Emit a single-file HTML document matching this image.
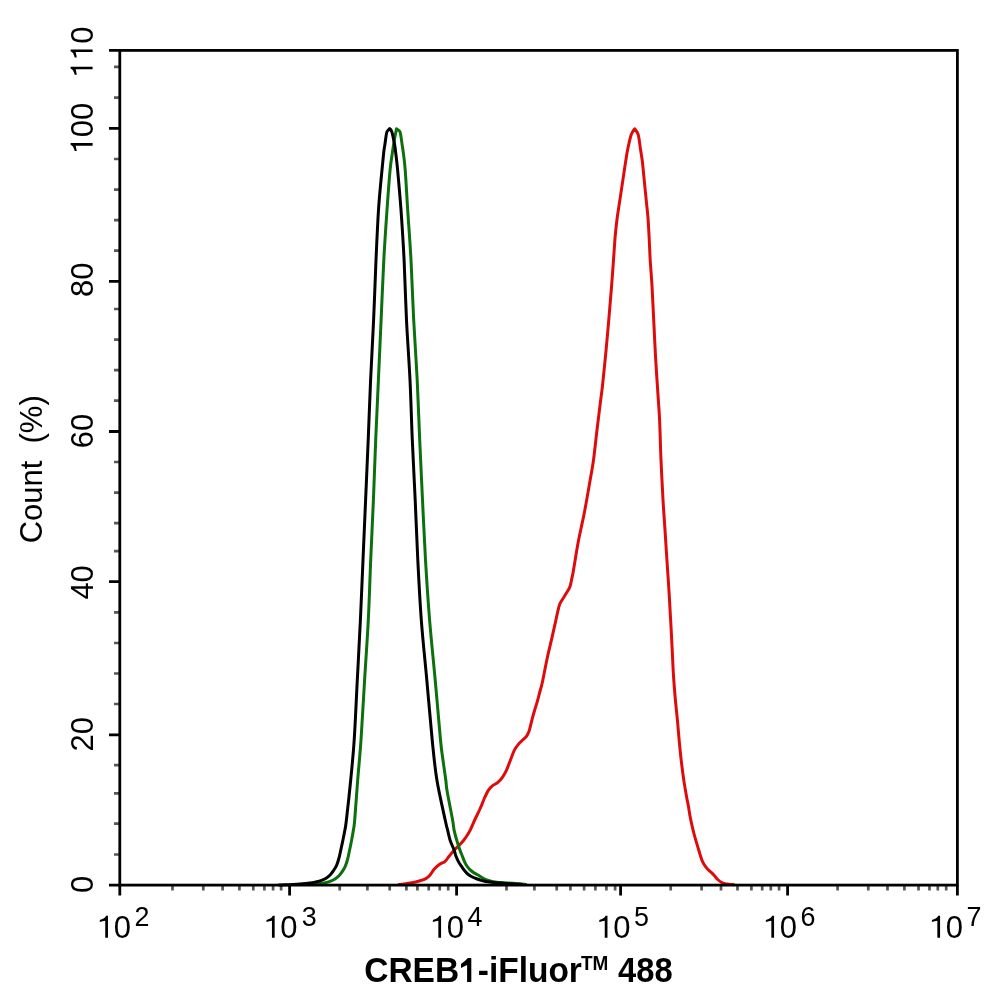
<!DOCTYPE html><html><head><meta charset="utf-8"><title>CREB1 flow histogram</title><style>html,body{margin:0;padding:0;background:#fff;width:994px;height:1002px;overflow:hidden}svg{display:block;will-change:transform}text{font-family:"Liberation Sans",sans-serif;font-kerning:none;fill:#000}</style></head><body>
<svg width="994" height="1002" viewBox="0 0 994 1002">
<path d="M114.00 66.80H119.80 M114.00 97.60H119.80 M114.00 159.00H119.80 M114.00 189.60H119.80 M114.00 220.10H119.80 M114.00 250.60H119.80 M114.00 309.00H119.80 M114.00 339.60H119.80 M114.00 370.10H119.80 M114.00 400.60H119.80 M114.00 462.00H119.80 M114.00 492.60H119.80 M114.00 523.20H119.80 M114.00 551.20H119.80 M114.00 612.40H119.80 M114.00 643.00H119.80 M114.00 673.50H119.80 M114.00 704.00H119.80 M114.00 765.20H119.80 M114.00 793.30H119.80 M114.00 823.70H119.80 M114.00 854.50H119.80 M172.50 885.10V890.40 M203.30 885.10V890.40 M222.60 885.10V890.40 M239.40 885.10V890.40 M253.30 885.10V890.40 M264.40 885.10V890.40 M273.10 885.10V890.40 M281.10 885.10V890.40 M339.70 885.10V890.40 M367.40 885.10V890.40 M389.70 885.10V890.40 M406.40 885.10V890.40 M417.40 885.10V890.40 M428.70 885.10V890.40 M439.70 885.10V890.40 M448.20 885.10V890.40 M506.50 885.10V890.40 M534.40 885.10V890.40 M556.70 885.10V890.40 M570.40 885.10V890.40 M584.10 885.10V890.40 M595.40 885.10V890.40 M606.40 885.10V890.40 M615.10 885.10V890.40 M670.70 885.10V890.40 M701.60 885.10V890.40 M721.00 885.10V890.40 M737.50 885.10V890.40 M751.40 885.10V890.40 M762.20 885.10V890.40 M770.80 885.10V890.40 M779.10 885.10V890.40 M837.60 885.10V890.40 M868.30 885.10V890.40 M887.50 885.10V890.40 M904.40 885.10V890.40 M918.50 885.10V890.40 M929.50 885.10V890.40 M937.80 885.10V890.40 M946.20 885.10V890.40" stroke="#585858" stroke-width="2.70" fill="none"/>
<path d="M399.00 884.60 C399.50 884.55 400.95 884.43 402.00 884.30 C403.05 884.17 403.63 884.05 405.30 883.80 C406.97 883.55 409.68 883.27 412.00 882.80 C414.32 882.33 416.88 881.70 419.20 881.00 C421.52 880.30 424.08 879.60 425.90 878.60 C427.72 877.60 428.70 876.60 430.10 875.00 C431.50 873.40 432.70 870.78 434.30 869.00 C435.90 867.22 437.90 865.58 439.70 864.30 C441.50 863.02 443.53 862.63 445.10 861.30 C446.67 859.97 447.60 858.15 449.10 856.30 C450.60 854.45 452.42 852.05 454.10 850.20 C455.78 848.35 457.60 846.87 459.20 845.20 C460.80 843.53 462.37 841.87 463.70 840.20 C465.03 838.53 466.12 836.88 467.20 835.20 C468.28 833.52 468.95 832.63 470.20 830.10 C471.45 827.57 473.03 823.60 474.70 820.00 C476.37 816.40 478.60 812.08 480.20 808.50 C481.80 804.92 482.95 801.52 484.30 798.50 C485.65 795.48 486.97 792.50 488.30 790.40 C489.63 788.30 490.72 787.23 492.30 785.90 C493.88 784.57 496.12 783.83 497.80 782.40 C499.48 780.97 500.97 779.32 502.40 777.30 C503.83 775.28 505.07 773.15 506.40 770.30 C507.73 767.45 509.07 763.55 510.40 760.20 C511.73 756.85 513.05 752.88 514.40 750.20 C515.75 747.52 517.08 745.83 518.50 744.10 C519.92 742.37 521.55 741.13 522.90 739.80 C524.25 738.47 525.58 737.52 526.60 736.10 C527.62 734.68 528.30 733.22 529.00 731.30 C529.70 729.38 530.20 726.92 530.80 724.60 C531.40 722.28 531.90 720.00 532.60 717.40 C533.30 714.80 534.20 711.72 535.00 709.00 C535.80 706.28 536.60 703.93 537.40 701.10 C538.20 698.27 539.00 695.02 539.80 692.00 C540.60 688.98 540.97 688.63 542.20 683.00 C543.43 677.37 545.67 665.35 547.20 658.20 C548.73 651.05 550.12 645.68 551.40 640.10 C552.68 634.52 553.82 629.57 554.90 624.70 C555.98 619.83 557.10 614.30 557.90 610.90 C558.70 607.50 558.95 606.20 559.70 604.30 C560.45 602.40 561.45 601.10 562.40 599.50 C563.35 597.90 564.35 596.40 565.40 594.70 C566.45 593.00 567.92 590.70 568.70 589.30 C569.48 587.90 569.67 587.68 570.10 586.30 C570.53 584.92 570.80 583.32 571.30 581.00 C571.80 578.68 572.40 576.23 573.10 572.40 C573.80 568.57 574.70 562.78 575.50 558.00 C576.30 553.22 577.00 548.53 577.90 543.70 C578.80 538.87 579.90 533.78 580.90 529.00 C581.90 524.22 582.88 520.17 583.90 515.00 C584.92 509.83 586.00 503.60 587.00 498.00 C588.00 492.40 588.82 487.73 589.90 481.40 C590.98 475.07 592.32 468.57 593.50 460.00 C594.68 451.43 595.80 440.00 597.00 430.00 C598.20 420.00 599.77 407.55 600.70 400.00 C601.63 392.45 601.68 393.23 602.60 384.70 C603.52 376.17 605.15 359.87 606.20 348.80 C607.25 337.73 608.00 328.78 608.90 318.30 C609.80 307.82 610.72 297.28 611.60 285.90 C612.48 274.52 613.60 258.32 614.20 250.00 C614.80 241.68 614.70 241.37 615.20 236.00 C615.70 230.63 616.52 223.17 617.20 217.80 C617.88 212.43 618.60 208.45 619.30 203.80 C620.00 199.15 620.70 194.55 621.40 189.90 C622.10 185.25 622.80 180.57 623.50 175.90 C624.20 171.23 624.90 166.33 625.60 161.90 C626.30 157.47 626.77 153.83 627.70 149.30 C628.63 144.77 630.03 138.12 631.20 134.70 C632.37 131.28 634.12 129.78 634.70 128.80 L634.70 128.80 C635.28 129.78 637.27 131.52 638.20 134.70 C639.13 137.88 639.60 143.37 640.30 147.90 C641.00 152.43 641.82 157.23 642.40 161.90 C642.98 166.57 643.33 171.23 643.80 175.90 C644.27 180.57 644.73 185.25 645.20 189.90 C645.67 194.55 646.13 199.15 646.60 203.80 C647.07 208.45 647.57 211.97 648.00 217.80 C648.43 223.63 648.83 231.77 649.20 238.80 C649.57 245.83 649.73 252.15 650.20 260.00 C650.67 267.85 651.40 275.58 652.00 285.90 C652.60 296.22 653.20 309.92 653.80 321.90 C654.40 333.88 654.92 345.83 655.60 357.80 C656.28 369.77 657.23 383.33 657.90 393.70 C658.57 404.07 659.08 408.97 659.60 420.00 C660.12 431.03 660.43 446.60 661.00 459.90 C661.57 473.20 662.33 488.15 663.00 499.80 C663.67 511.45 664.35 519.82 665.00 529.80 C665.65 539.78 666.25 549.72 666.90 559.70 C667.55 569.68 668.28 579.72 668.90 589.70 C669.52 599.68 670.20 612.55 670.60 619.60 C671.00 626.65 671.00 626.27 671.30 632.00 C671.60 637.73 672.03 646.68 672.40 654.00 C672.77 661.32 673.03 668.58 673.50 675.90 C673.97 683.22 674.55 690.57 675.20 697.90 C675.85 705.23 676.87 714.30 677.40 719.90 C677.93 725.50 677.98 726.82 678.40 731.50 C678.82 736.18 679.35 742.50 679.90 748.00 C680.45 753.50 681.03 759.02 681.70 764.50 C682.37 769.98 683.07 775.42 683.90 780.90 C684.73 786.38 685.95 793.22 686.70 797.40 C687.45 801.58 687.87 802.98 688.40 806.00 C688.93 809.02 689.33 812.38 689.90 815.50 C690.47 818.62 691.15 821.78 691.80 824.70 C692.45 827.62 693.12 830.35 693.80 833.00 C694.48 835.65 695.20 838.17 695.90 840.60 C696.60 843.03 697.30 845.27 698.00 847.60 C698.70 849.93 699.40 852.38 700.10 854.60 C700.80 856.82 701.38 859.03 702.20 860.90 C703.02 862.77 703.95 864.28 705.00 865.80 C706.05 867.32 707.42 868.87 708.50 870.00 C709.58 871.13 710.50 871.63 711.50 872.60 C712.50 873.57 713.47 874.65 714.50 875.80 C715.53 876.95 716.57 878.43 717.70 879.50 C718.83 880.57 720.10 881.52 721.30 882.20 C722.50 882.88 723.62 883.25 724.90 883.60 C726.18 883.95 727.48 884.12 729.00 884.30 C730.52 884.48 733.17 884.63 734.00 884.70" stroke="#de0b0b" stroke-width="3.00" fill="none" stroke-linejoin="round" stroke-linecap="round"/>
<path d="M312.00 884.40 C313.42 884.23 318.28 883.67 320.50 883.40 C322.72 883.13 323.70 883.13 325.30 882.80 C326.90 882.47 328.48 882.03 330.10 881.40 C331.72 880.77 333.52 879.93 335.00 879.00 C336.48 878.07 337.80 877.02 339.00 875.80 C340.20 874.58 341.20 873.18 342.20 871.70 C343.20 870.22 344.13 868.85 345.00 866.90 C345.87 864.95 346.70 862.48 347.40 860.00 C348.10 857.52 348.50 855.30 349.20 852.00 C349.90 848.70 350.90 843.85 351.60 840.20 C352.30 836.55 352.88 833.47 353.40 830.10 C353.92 826.73 353.98 828.35 354.70 820.00 C355.42 811.65 356.65 793.33 357.70 780.00 C358.75 766.67 359.85 756.67 361.00 740.00 C362.15 723.33 363.38 700.00 364.60 680.00 C365.82 660.00 367.28 640.00 368.30 620.00 C369.32 600.00 369.85 580.00 370.70 560.00 C371.55 540.00 372.57 520.00 373.40 500.00 C374.23 480.00 374.87 460.00 375.70 440.00 C376.53 420.00 377.50 400.00 378.40 380.00 C379.30 360.00 380.20 340.00 381.10 320.00 C382.00 300.00 382.82 278.33 383.80 260.00 C384.78 241.67 385.95 225.03 387.00 210.00 C388.05 194.97 389.20 179.37 390.10 169.80 C391.00 160.23 391.82 156.82 392.40 152.60 C392.98 148.38 393.22 146.92 393.60 144.50 C393.98 142.08 394.32 140.23 394.70 138.10 C395.08 135.97 395.60 133.25 395.90 131.70 C396.20 130.15 396.40 129.28 396.50 128.80 L396.50 128.80 C397.07 129.28 399.12 130.15 399.90 131.70 C400.68 133.25 400.83 135.97 401.20 138.10 C401.57 140.23 401.75 142.08 402.10 144.50 C402.45 146.92 402.78 148.38 403.30 152.60 C403.82 156.82 404.47 160.23 405.20 169.80 C405.93 179.37 406.73 194.97 407.70 210.00 C408.67 225.03 410.00 241.67 411.00 260.00 C412.00 278.33 412.67 300.00 413.70 320.00 C414.73 340.00 416.20 360.00 417.20 380.00 C418.20 400.00 418.82 420.00 419.70 440.00 C420.58 460.00 421.53 480.00 422.50 500.00 C423.47 520.00 424.32 540.00 425.50 560.00 C426.68 580.00 427.98 600.00 429.60 620.00 C431.22 640.00 433.38 660.00 435.20 680.00 C437.02 700.00 439.20 726.63 440.50 740.00 C441.80 753.37 442.12 753.53 443.00 760.20 C443.88 766.87 445.13 774.97 445.80 780.00 C446.47 785.03 445.87 783.73 447.00 790.40 C448.13 797.07 451.42 813.38 452.60 820.00 C453.78 826.62 453.42 826.73 454.10 830.10 C454.78 833.47 455.73 836.88 456.70 840.20 C457.67 843.52 458.97 847.37 459.90 850.00 C460.83 852.63 461.50 853.98 462.30 856.00 C463.10 858.02 463.83 860.28 464.70 862.10 C465.57 863.92 466.48 865.50 467.50 866.90 C468.52 868.30 469.58 869.43 470.80 870.50 C472.02 871.57 473.40 872.42 474.80 873.30 C476.20 874.18 477.80 874.98 479.20 875.80 C480.60 876.62 482.05 877.55 483.20 878.20 C484.35 878.85 484.43 879.10 486.10 879.70 C487.77 880.30 490.88 881.33 493.20 881.80 C495.52 882.27 497.65 882.32 500.00 882.50 C502.35 882.68 504.63 882.73 507.30 882.90 C509.97 883.07 512.88 883.25 516.00 883.50 C519.12 883.75 524.33 884.25 526.00 884.40" stroke="#0c700c" stroke-width="3.00" fill="none" stroke-linejoin="round" stroke-linecap="round"/>
<path d="M279.00 885.00 C280.17 884.97 283.67 884.90 286.00 884.80 C288.33 884.70 290.67 884.55 293.00 884.40 C295.33 884.25 297.17 884.13 300.00 883.90 C302.83 883.67 307.67 883.25 310.00 883.00 C312.33 882.75 312.67 882.67 314.00 882.40 C315.33 882.13 316.65 881.77 318.00 881.40 C319.35 881.03 320.75 880.73 322.10 880.20 C323.45 879.67 324.77 879.07 326.10 878.20 C327.43 877.33 328.90 876.22 330.10 875.00 C331.30 873.78 332.22 872.52 333.30 870.90 C334.38 869.28 335.65 867.45 336.60 865.30 C337.55 863.15 338.30 860.55 339.00 858.00 C339.70 855.45 340.15 852.97 340.80 850.00 C341.45 847.03 342.22 843.52 342.90 840.20 C343.58 836.88 344.32 833.47 344.90 830.10 C345.48 826.73 345.43 828.35 346.40 820.00 C347.37 811.65 349.40 793.33 350.70 780.00 C352.00 766.67 353.10 756.67 354.20 740.00 C355.30 723.33 356.27 700.00 357.30 680.00 C358.33 660.00 359.45 640.00 360.40 620.00 C361.35 600.00 362.13 580.00 363.00 560.00 C363.87 540.00 364.73 520.00 365.60 500.00 C366.47 480.00 367.37 460.00 368.20 440.00 C369.03 420.00 369.70 400.00 370.60 380.00 C371.50 360.00 372.70 340.00 373.60 320.00 C374.50 300.00 375.18 278.33 376.00 260.00 C376.82 241.67 377.58 224.17 378.50 210.00 C379.42 195.83 380.63 184.57 381.50 175.00 C382.37 165.43 383.13 157.68 383.70 152.60 C384.27 147.52 384.55 146.92 384.90 144.50 C385.25 142.08 385.46 140.23 385.80 138.10 C386.14 135.97 386.29 133.30 386.95 131.70 C387.61 130.10 389.28 129.03 389.75 128.50 L389.75 128.50 C390.09 129.03 391.21 130.10 391.80 131.70 C392.39 133.30 392.83 135.97 393.30 138.10 C393.77 140.23 394.20 142.08 394.60 144.50 C395.00 146.92 395.20 148.38 395.70 152.60 C396.20 156.82 396.72 160.23 397.60 169.80 C398.48 179.37 399.92 194.97 401.00 210.00 C402.08 225.03 403.18 241.67 404.10 260.00 C405.02 278.33 405.52 300.00 406.50 320.00 C407.48 340.00 409.03 360.00 410.00 380.00 C410.97 400.00 411.43 420.00 412.30 440.00 C413.17 460.00 414.28 480.00 415.20 500.00 C416.12 520.00 416.78 540.00 417.80 560.00 C418.82 580.00 419.80 600.00 421.30 620.00 C422.80 640.00 424.98 660.00 426.80 680.00 C428.62 700.00 430.52 723.33 432.20 740.00 C433.88 756.67 434.73 766.67 436.90 780.00 C439.07 793.33 443.42 811.65 445.20 820.00 C446.98 828.35 446.78 826.73 447.60 830.10 C448.42 833.47 449.02 836.88 450.10 840.20 C451.18 843.52 453.13 847.37 454.10 850.00 C455.07 852.63 455.13 853.98 455.90 856.00 C456.67 858.02 457.70 860.28 458.70 862.10 C459.70 863.92 460.83 865.37 461.90 866.90 C462.97 868.43 464.03 870.03 465.10 871.30 C466.17 872.57 467.08 873.55 468.30 874.50 C469.52 875.45 470.92 876.25 472.40 877.00 C473.88 877.75 475.73 878.43 477.20 879.00 C478.67 879.57 479.73 879.98 481.20 880.40 C482.67 880.82 484.00 881.15 486.00 881.50 C488.00 881.85 490.37 882.20 493.20 882.50 C496.03 882.80 499.53 883.03 503.00 883.30 C506.47 883.57 510.83 883.88 514.00 884.10 C517.17 884.32 520.67 884.52 522.00 884.60" stroke="#000" stroke-width="3.00" fill="none" stroke-linejoin="round" stroke-linecap="round"/>
<path d="M109.00 885.10H119.80 M109.00 734.80H119.80 M109.00 581.70H119.80 M109.00 431.50H119.80 M109.00 281.40H119.80 M109.00 128.30H119.80 M109.00 50.40H119.80 M119.80 885.10V895.60 M289.60 885.10V895.60 M456.60 885.10V895.60 M620.60 885.10V895.60 M787.60 885.10V895.60 M957.40 885.10V895.60" stroke="#000" stroke-width="2.80" fill="none"/>
<rect x="119.80" y="50.40" width="837.60" height="834.70" fill="none" stroke="#000" stroke-width="2.80"/>
<g transform="translate(92.60 78.18) rotate(-90) scale(1 1.030)"><path d="M763 0L583 0L583 1087 Q420 1049 223 1014 L223 1146 Q420 1199 520 1262 Q600 1340 640 1411 L763 1411 Z" transform="translate(0.00 0) scale(0.01514 -0.01514)"/><path d="M763 0L583 0L583 1087 Q420 1049 223 1014 L223 1146 Q420 1199 520 1262 Q600 1340 640 1411 L763 1411 Z" transform="translate(17.24 0) scale(0.01514 -0.01514)"/><text x="34.48" y="0" font-size="31.00" xml:space="preserve">0</text></g>
<g transform="translate(92.60 154.48) rotate(-90) scale(1 1.030)"><path d="M763 0L583 0L583 1087 Q420 1049 223 1014 L223 1146 Q420 1199 520 1262 Q600 1340 640 1411 L763 1411 Z" transform="translate(0.00 0) scale(0.01514 -0.01514)"/><text x="17.24" y="0" font-size="31.00" xml:space="preserve">00</text></g>
<g transform="translate(92.60 297.05) rotate(-90) scale(1 1.030)"><text x="0.00" y="0" font-size="31.00" xml:space="preserve">80</text></g>
<g transform="translate(92.60 448.17) rotate(-90) scale(1 1.030)"><text x="0.00" y="0" font-size="31.00" xml:space="preserve">60</text></g>
<g transform="translate(92.60 599.61) rotate(-90) scale(1 1.030)"><text x="0.00" y="0" font-size="31.00" xml:space="preserve">40</text></g>
<g transform="translate(92.60 751.46) rotate(-90) scale(1 1.030)"><text x="0.00" y="0" font-size="31.00" xml:space="preserve">20</text></g>
<g transform="translate(92.60 893.11) rotate(-90) scale(1 1.030)"><text x="0.00" y="0" font-size="31.00" xml:space="preserve">0</text></g>
<g transform="translate(96.42 937.80) scale(1.000 1.030)"><path d="M763 0L583 0L583 1087 Q420 1049 223 1014 L223 1146 Q420 1199 520 1262 Q600 1340 640 1411 L763 1411 Z" transform="translate(0.00 0) scale(0.01514 -0.01514)"/><text x="17.24" y="0" font-size="31.00" xml:space="preserve">0</text></g>
<g transform="translate(134.55 925.80) scale(1.000 1.000)"><text x="0.00" y="0" font-size="26.90" xml:space="preserve">2</text></g>
<g transform="translate(263.12 937.80) scale(1.000 1.030)"><path d="M763 0L583 0L583 1087 Q420 1049 223 1014 L223 1146 Q420 1199 520 1262 Q600 1340 640 1411 L763 1411 Z" transform="translate(0.00 0) scale(0.01514 -0.01514)"/><text x="17.24" y="0" font-size="31.00" xml:space="preserve">0</text></g>
<g transform="translate(301.68 925.80) scale(1.000 1.000)"><text x="0.00" y="0" font-size="26.90" xml:space="preserve">3</text></g>
<g transform="translate(429.52 937.80) scale(1.000 1.030)"><path d="M763 0L583 0L583 1087 Q420 1049 223 1014 L223 1146 Q420 1199 520 1262 Q600 1340 640 1411 L763 1411 Z" transform="translate(0.00 0) scale(0.01514 -0.01514)"/><text x="17.24" y="0" font-size="31.00" xml:space="preserve">0</text></g>
<g transform="translate(467.48 925.80) scale(1.000 1.000)"><text x="0.00" y="0" font-size="26.90" xml:space="preserve">4</text></g>
<g transform="translate(595.92 937.80) scale(1.000 1.030)"><path d="M763 0L583 0L583 1087 Q420 1049 223 1014 L223 1146 Q420 1199 520 1262 Q600 1340 640 1411 L763 1411 Z" transform="translate(0.00 0) scale(0.01514 -0.01514)"/><text x="17.24" y="0" font-size="31.00" xml:space="preserve">0</text></g>
<g transform="translate(634.02 925.80) scale(1.000 1.000)"><text x="0.00" y="0" font-size="26.90" xml:space="preserve">5</text></g>
<g transform="translate(762.52 937.80) scale(1.000 1.030)"><path d="M763 0L583 0L583 1087 Q420 1049 223 1014 L223 1146 Q420 1199 520 1262 Q600 1340 640 1411 L763 1411 Z" transform="translate(0.00 0) scale(0.01514 -0.01514)"/><text x="17.24" y="0" font-size="31.00" xml:space="preserve">0</text></g>
<g transform="translate(800.53 925.80) scale(1.000 1.000)"><text x="0.00" y="0" font-size="26.90" xml:space="preserve">6</text></g>
<g transform="translate(928.52 937.80) scale(1.000 1.030)"><path d="M763 0L583 0L583 1087 Q420 1049 223 1014 L223 1146 Q420 1199 520 1262 Q600 1340 640 1411 L763 1411 Z" transform="translate(0.00 0) scale(0.01514 -0.01514)"/><text x="17.24" y="0" font-size="31.00" xml:space="preserve">0</text></g>
<g transform="translate(966.52 925.80) scale(1.000 1.000)"><text x="0.00" y="0" font-size="26.90" xml:space="preserve">7</text></g>
<g transform="translate(42.40 543.37) rotate(-90) scale(1 1.030)"><text x="0.00" y="0" font-size="31.00" xml:space="preserve">Count  (%)</text></g>
<g transform="translate(364.23 981.90) scale(1.000 1.040)"><text x="0.00" y="0" font-size="33.50" font-weight="bold" xml:space="preserve">CREB</text><path d="M743 0L486 0L486 990 Q300 894 113 823 L113 1052 Q330 1183 535 1399 L743 1399 Z" transform="translate(94.92 0) scale(0.01636 -0.01636)"/><text x="113.55" y="0" font-size="33.50" font-weight="bold" xml:space="preserve">-iFluor</text></g>
<g transform="translate(580.99 970.40) scale(1.000 1.040)"><text x="0.00" y="0" font-size="19.00" font-weight="bold" xml:space="preserve">TM</text></g>
<g transform="translate(618.00 981.90) scale(0.977 1.040)"><text x="0.00" y="0" font-size="33.50" font-weight="bold" xml:space="preserve">488</text></g>
</svg></body></html>
